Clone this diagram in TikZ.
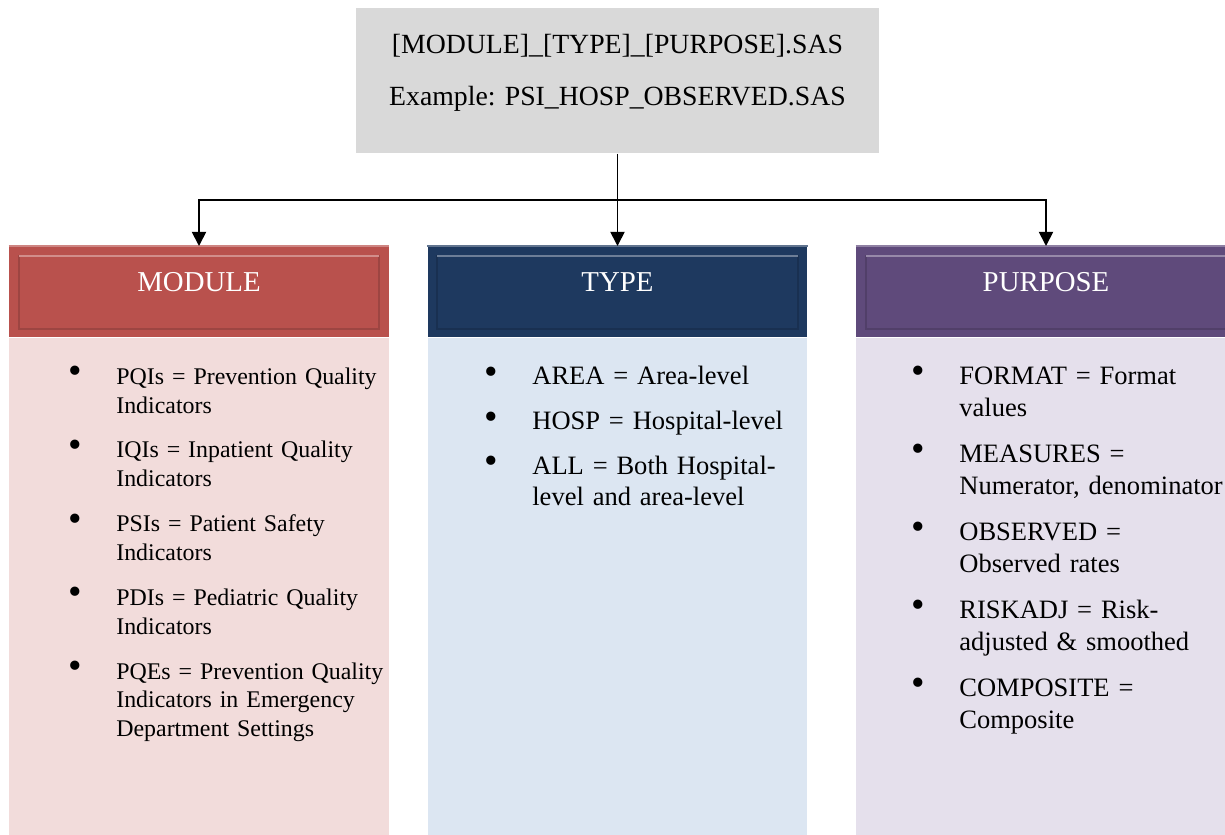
\documentclass[tikz,border=0pt]{standalone}
\usepackage{fontspec}
\setmainfont{Liberation Serif}
\usetikzlibrary{arrows.meta}
\usetikzlibrary{positioning}
\frenchspacing

\definecolor{modred}{RGB}{185,81,77}
\definecolor{modpink}{RGB}{242,220,219}
\definecolor{typeblue}{RGB}{30,57,95}
\definecolor{typepale}{RGB}{220,230,242}
\definecolor{purpviolet}{RGB}{95,74,123}
\definecolor{purppale}{RGB}{229,224,236}
\definecolor{titlegray}{RGB}{217,217,217}

\newcommand{\blt}{\makebox[0pt]{\raisebox{0.02em}{\fontsize{22}{22}\selectfont\textbullet}}}
\newenvironment{bulletlist}[1]{\begin{list}{\blt}{\setlength{\leftmargin}{0.82cm}\setlength{\labelsep}{0.82cm}%
  \setlength{\labelwidth}{0pt}\setlength{\itemindent}{0pt}\setlength{\itemsep}{#1}%
  \setlength{\parsep}{0pt}\setlength{\topsep}{0pt}\setlength{\partopsep}{0pt}}}{\end{list}}

\begin{document}
\begin{tikzpicture}[x=0.02cm,y=-0.02cm,
    title/.style={fill=titlegray, inner sep=0pt, text width=10.46cm, align=center,
      text height=0.9cm, text depth=2cm, font=\fontsize{15.8}{29.5}\selectfont},
    header/.style={fill=#1, inner sep=0pt, text width=7.6cm, align=center,
      text height=0.9cm, text depth=0.92cm, text=white, font=\fontsize{16.4}{19}\selectfont},
    body/.style={fill=#1, inner sep=0pt, minimum width=7.6cm, minimum height=10.1cm},
    items/.style={inner sep=0pt, anchor=north west, text width=#1, align=left},
    link/.style={line width=1pt},
    flow/.style={link, -{Triangle[width=8pt,length=8pt]}}]
        \clip (0,0) rectangle (1225,835);

        \node[title, anchor=north] (title) at (617.5,8) {[MODULE]\_[TYPE]\_[PURPOSE].SAS\\Example: PSI\_HOSP\_OBSERVED.SAS};

        \node[header=modred, anchor=north] (hmod) at (199,246) {MODULE};
        \node[header=typeblue, anchor=north] (htype) at (617.5,246) {TYPE};
        \node[header=purpviolet, anchor=north] (hpurp) at (1046,246) {PURPOSE};
        \foreach \h/\c in {hmod/modred, htype/typeblue, hpurp/purpviolet} {
            \draw[\c!70!white, line width=1pt] (\h.north west) -- (\h.north east);
            \draw[\c!85!black, line width=1pt] ([shift={(10,10)}]\h.north west) rectangle ([shift={(-10,-9)}]\h.south east);
            \draw[\c!65!white, line width=1pt] ([shift={(10,10)}]\h.north west) -- ([shift={(-10,10)}]\h.north east);
        }

        \node[body=modpink, below=0pt of hmod] (bmod) {};
        \node[body=typepale, below=0pt of htype] (btype) {};
        \node[body=purppale, below=0pt of hpurp] (bpurp) {};

        \coordinate (split) at (617.5,200);
        \draw[link] (title) -- (split);
        \draw[flow] (split) -| (hmod.north);
        \draw[flow] (split) -- (htype.north);
        \draw[flow] (split) -| (hpurp.north);

        \node[items=6.2cm, font=\fontsize{13.6}{16.44}\selectfont] (lmod) at (75,355) {%
            \begin{bulletlist}{9.07pt}
            \item PQIs = Prevention Quality\\Indicators
            \item IQIs = Inpatient Quality\\Indicators
            \item PSIs = Patient Safety\\Indicators
            \item PDIs = Pediatric Quality\\Indicators
            \item PQEs = Prevention Quality\\Indicators in Emergency\\Department Settings
            \end{bulletlist}};
        \node[items=6.2cm, font=\fontsize{15.1}{17.6}\selectfont] (ltype) at (491,353.5) {%
            \begin{bulletlist}{7.9pt}
            \item AREA = Area-level
            \item HOSP = Hospital-level
            \item ALL = Both Hospital-\\level and area-level
            \end{bulletlist}};
        \node[items=6.6cm, font=\fontsize{15.1}{18.4}\selectfont] (lpurp) at (918,351.8) {%
            \begin{bulletlist}{7.6pt}
            \item FORMAT = Format\\values
            \item MEASURES =\\Numerator, denominator
            \item OBSERVED =\\Observed rates
            \item RISKADJ = Risk-\\adjusted \& smoothed
            \item COMPOSITE =\\Composite
            \end{bulletlist}};
\end{tikzpicture}
\end{document}
